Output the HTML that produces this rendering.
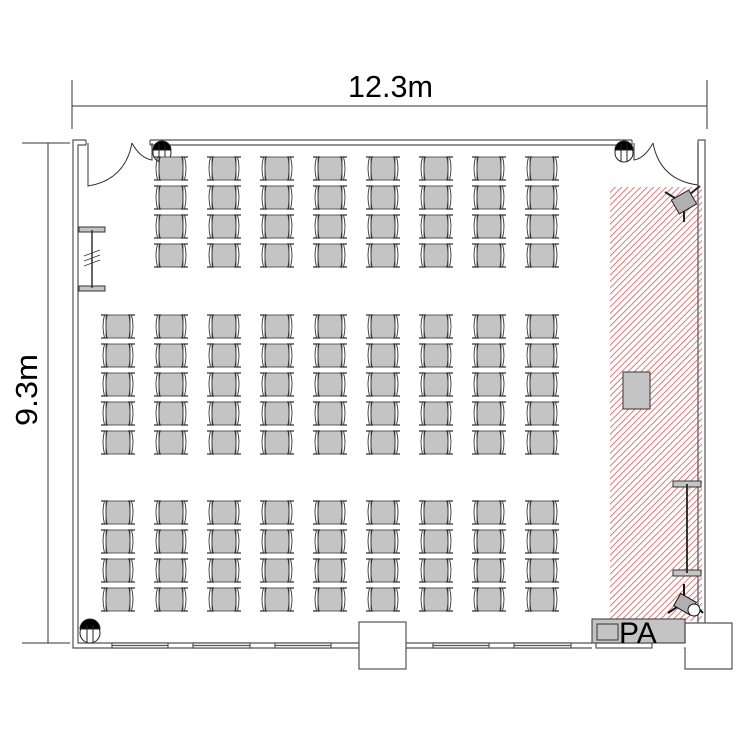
<!DOCTYPE html>
<html><head><meta charset="utf-8"><style>html,body{margin:0;padding:0;background:#fff}svg{display:block}</style></head>
<body>
<svg width="750" height="750" viewBox="0 0 750 750" xmlns="http://www.w3.org/2000/svg">
<defs>
<pattern id="h" width="4.5" height="4.5" patternUnits="userSpaceOnUse" patternTransform="rotate(45)">
<rect width="4.5" height="4.5" fill="#fff"/><line x1="0" y1="0" x2="0" y2="4.5" stroke="#dd5555" stroke-width="1.6"/>
</pattern>
<g id="c">
<rect x="4" y="1" width="24" height="23" rx="2" fill="#c4c4c4" stroke="#333" stroke-width="0.8"/>
<path d="M2.5 1 Q-0.5 12 2.5 24 M29.5 1 Q32.5 12 29.5 24" fill="none" stroke="#333" stroke-width="0.9"/>
<path d="M5 1 Q3 12 5 24 M27 1 Q29 12 27 24" fill="none" stroke="#333" stroke-width="0.8"/>
<path d="M-1 1 H6 M26 1 H33 M-1 24 H6 M26 24 H33" stroke="#333" stroke-width="1.3"/>
</g>
</defs>
<g font-family="Liberation Sans, sans-serif" fill="#000">
<text x="348" y="97" font-size="31" textLength="85" lengthAdjust="spacingAndGlyphs">12.3m</text>
<text transform="translate(37,390) rotate(-90)" font-size="31" text-anchor="middle" textLength="72" lengthAdjust="spacingAndGlyphs">9.3m</text>
</g>
<g stroke="#333" stroke-width="1" fill="none">
<line x1="72" y1="106" x2="707" y2="106"/>
<line x1="72" y1="80" x2="72" y2="129"/>
<line x1="707" y1="80" x2="707" y2="129"/>
<line x1="48" y1="143" x2="48" y2="643"/>
<line x1="22" y1="143" x2="70" y2="143"/>
<line x1="22" y1="643" x2="70" y2="643"/>
</g>
<rect x="610" y="187" width="92" height="434" fill="url(#h)"/>
<g stroke="#555" stroke-width="1.2" fill="none">
<path d="M150 140 H632 M150 145 H632 M150 140 V145 M632 140 V145"/>
<path d="M86 140 H73 V648 H359 M86 145 H78 V643 H359 M86 140 V145"/>
<path d="M406 643 H592 M406 648 H592"/>
<path d="M698 140 H705 V623 M698 140 V623"/>
<rect x="359" y="622" width="47" height="47" fill="#fff"/>
<path d="M685 623 H732 V669 H685 V648 H684 M685 643 V623"/>
<rect x="112" y="643" width="56" height="5" fill="#fff"/><line x1="112" y1="645.5" x2="168" y2="645.5"/>
<rect x="193" y="643" width="57" height="5" fill="#fff"/><line x1="193" y1="645.5" x2="250" y2="645.5"/>
<rect x="275" y="643" width="56" height="5" fill="#fff"/><line x1="275" y1="645.5" x2="331" y2="645.5"/>
<rect x="433" y="643" width="56" height="5" fill="#fff"/><line x1="433" y1="645.5" x2="489" y2="645.5"/>
<rect x="514" y="643" width="57" height="5" fill="#fff"/><line x1="514" y1="645.5" x2="571" y2="645.5"/>
<rect x="596" y="643" width="56" height="5" fill="#fff"/>
</g>
<g stroke="#333" stroke-width="1" fill="none">
<path d="M88 143 V186 Q125 180 132 143"/>
<path d="M132 143 Q140 158 152 160 V143"/>
<path d="M698 143 V185 Q660 180 653 143"/>
<path d="M653 143 Q645 158 634 160 V143"/>
</g>
<g stroke="#222" stroke-width="1" fill="#fff">
<circle cx="162" cy="153" r="9"/><path d="M153 150 A9 9 0 0 1 171 150 Z" fill="#000"/><path d="M159 144 V162 M165 144 V162"/>
<circle cx="624" cy="153" r="9"/><path d="M615 150 A9 9 0 0 1 633 150 Z" fill="#000"/><path d="M621 144 V162 M627 144 V162"/>
<circle cx="90" cy="633" r="10"/><path d="M80 629 A10 10 0 0 1 100 629 Z" fill="#000"/><path d="M87 625 V643 M93 625 V643"/>
</g>
<g stroke="#333" stroke-width="1">
<rect x="79" y="227" width="26" height="5" fill="#c4c4c4"/>
<rect x="79" y="286" width="26" height="5" fill="#c4c4c4"/>
<line x1="92" y1="230" x2="92" y2="288" stroke-width="1.5"/>
<path d="M84 256 L100 250 M84 261 L100 255 M84 266 L100 260" stroke-width="0.8"/>
</g>
<g stroke="#222" stroke-width="2">
<path d="M665 192 L683 203 M690 194 L700 186 M684 210 L684 222"/>
<rect x="674" y="194" width="20" height="16" transform="rotate(-30 684 202)" fill="#b0b0b0" stroke-width="1"/>
</g>
<rect x="623" y="372" width="27" height="37" fill="#c4c4c4" stroke="#333"/>
<g stroke="#333" stroke-width="1" fill="#c4c4c4">
<rect x="673" y="481" width="28" height="6"/>
<rect x="673" y="570" width="28" height="6"/>
<line x1="687" y1="484" x2="687" y2="573" stroke-width="2"/>
</g>
<g stroke="#111" stroke-width="2">
<path d="M684 584 V596 M668 613 L680 605 M694 604 L703 613"/>
<rect x="676" y="597" width="18" height="14" transform="rotate(30 685 604)" fill="#b0b0b0" stroke-width="1"/>
<circle cx="694" cy="610" r="6" fill="#fff" stroke-width="1"/>
</g>
<rect x="592" y="619" width="93" height="24" fill="#c4c4c4" stroke="#333"/>
<rect x="597" y="624" width="21" height="16" fill="#c4c4c4" stroke="#333"/>
<text x="619" y="643" font-family="Liberation Sans, sans-serif" font-size="30" fill="#000">PA</text>
<g>
<use href="#c" x="155" y="156"/><use href="#c" x="208" y="156"/><use href="#c" x="261" y="156"/><use href="#c" x="314" y="156"/><use href="#c" x="367" y="156"/><use href="#c" x="420" y="156"/><use href="#c" x="473" y="156"/><use href="#c" x="526" y="156"/>
<use href="#c" x="155" y="185"/><use href="#c" x="208" y="185"/><use href="#c" x="261" y="185"/><use href="#c" x="314" y="185"/><use href="#c" x="367" y="185"/><use href="#c" x="420" y="185"/><use href="#c" x="473" y="185"/><use href="#c" x="526" y="185"/>
<use href="#c" x="155" y="214"/><use href="#c" x="208" y="214"/><use href="#c" x="261" y="214"/><use href="#c" x="314" y="214"/><use href="#c" x="367" y="214"/><use href="#c" x="420" y="214"/><use href="#c" x="473" y="214"/><use href="#c" x="526" y="214"/>
<use href="#c" x="155" y="243"/><use href="#c" x="208" y="243"/><use href="#c" x="261" y="243"/><use href="#c" x="314" y="243"/><use href="#c" x="367" y="243"/><use href="#c" x="420" y="243"/><use href="#c" x="473" y="243"/><use href="#c" x="526" y="243"/>
</g>
<g id="mrow">
<use href="#c" x="102" y="314"/><use href="#c" x="155" y="314"/><use href="#c" x="208" y="314"/><use href="#c" x="261" y="314"/><use href="#c" x="314" y="314"/><use href="#c" x="367" y="314"/><use href="#c" x="420" y="314"/><use href="#c" x="473" y="314"/><use href="#c" x="526" y="314"/>
</g>
<use href="#mrow" y="29"/><use href="#mrow" y="58"/><use href="#mrow" y="87"/><use href="#mrow" y="116"/>
<use href="#mrow" y="186"/><use href="#mrow" y="215"/><use href="#mrow" y="244"/><use href="#mrow" y="273"/>
</svg>
</body></html>
